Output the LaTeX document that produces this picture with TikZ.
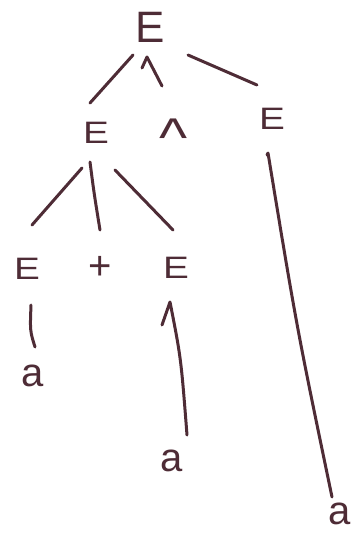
\documentclass[tikz,border=0pt]{standalone}
\usepackage{graphicx}
\usepackage{fontspec}
\setmainfont{Liberation Sans}
\definecolor{ink}{RGB}{78,44,54}
\newcommand{\wideE}{\scalebox{1.25}[1]{E}}
\begin{document}
\begin{tikzpicture}[x=1pt,y=-1pt,
  sym/.style={inner sep=0pt,text=ink,font=\fontsize{31}{31}\selectfont},
  big/.style={sym,font=\fontsize{44}{44}\selectfont},
  leaf/.style={sym,font=\fontsize{40}{40}\selectfont},
  edge/.style={draw=ink,line width=3pt,line cap=round,line join=round}]
\useasboundingbox (0,0) rectangle (363,533);

% nodes of the parse tree
\node[big]  (root) at (150,27)  {E};
\node[sym]  (e1)   at (96,133)  {\wideE};
\node[sym,font=\fontsize{26}{26}\selectfont,anchor=north] (op) at (174,119)
     {\scalebox{2.3}[2.1]{\textasciicircum}};
\node[sym]  (e2)   at (272,119) {\wideE};
\node[sym]  (e11)  at (27,269)  {\wideE};
\node[sym,font=\fontsize{40}{40}\selectfont] (plus) at (100,268) {+};
\node[sym]  (e12)  at (176,268) {\wideE};
\node[leaf] (a11)  at (33,376)  {a};
\node[leaf] (a12)  at (172,461) {a};
\node[leaf] (a2)   at (340,514) {a};

% branches from the root
\draw[edge] ([shift={(-17,28)}]root.center) -- ([shift={(-6,-30)}]e1.center);
\draw[edge] ([shift={(-8,41)}]root.center) -- ([shift={(-3,30)}]root.center)
            -- ([shift={(-12,-33)}]op.north);
\draw[edge] ([shift={(38,28)}]root.center) -- ([shift={(-15,-34)}]e2.center);

% branches of the left E
\draw[edge] ([shift={(-14,35)}]e1.center) -- ([shift={(5,-44)}]e11.center);
\draw[edge] ([shift={(-6,29)}]e1.center) .. controls ([shift={(-2,60)}]e1.center)
            .. ([shift={(0,-38)}]plus.center);
\draw[edge] ([shift={(19,37)}]e1.center) -- ([shift={(-3,-38)}]e12.center);

% leaves
\draw[edge] ([shift={(4,36)}]e11.center) .. controls ([shift={(3,62)}]e11.center)
            .. ([shift={(2,-29)}]a11.center);
\draw[edge] ([shift={(-14,57)}]e12.center) -- ([shift={(-6,34)}]e12.center)
            .. controls ([shift={(5,90)}]e12.center) .. ([shift={(15,-26)}]a12.center);
\draw[edge] ([shift={(-5,36)}]e2.center) -- ([shift={(-4,34)}]e2.center)
            .. controls ([shift={(25,210)}]e2.center) .. ([shift={(-8,-17)}]a2.center);
\end{tikzpicture}
\end{document}
